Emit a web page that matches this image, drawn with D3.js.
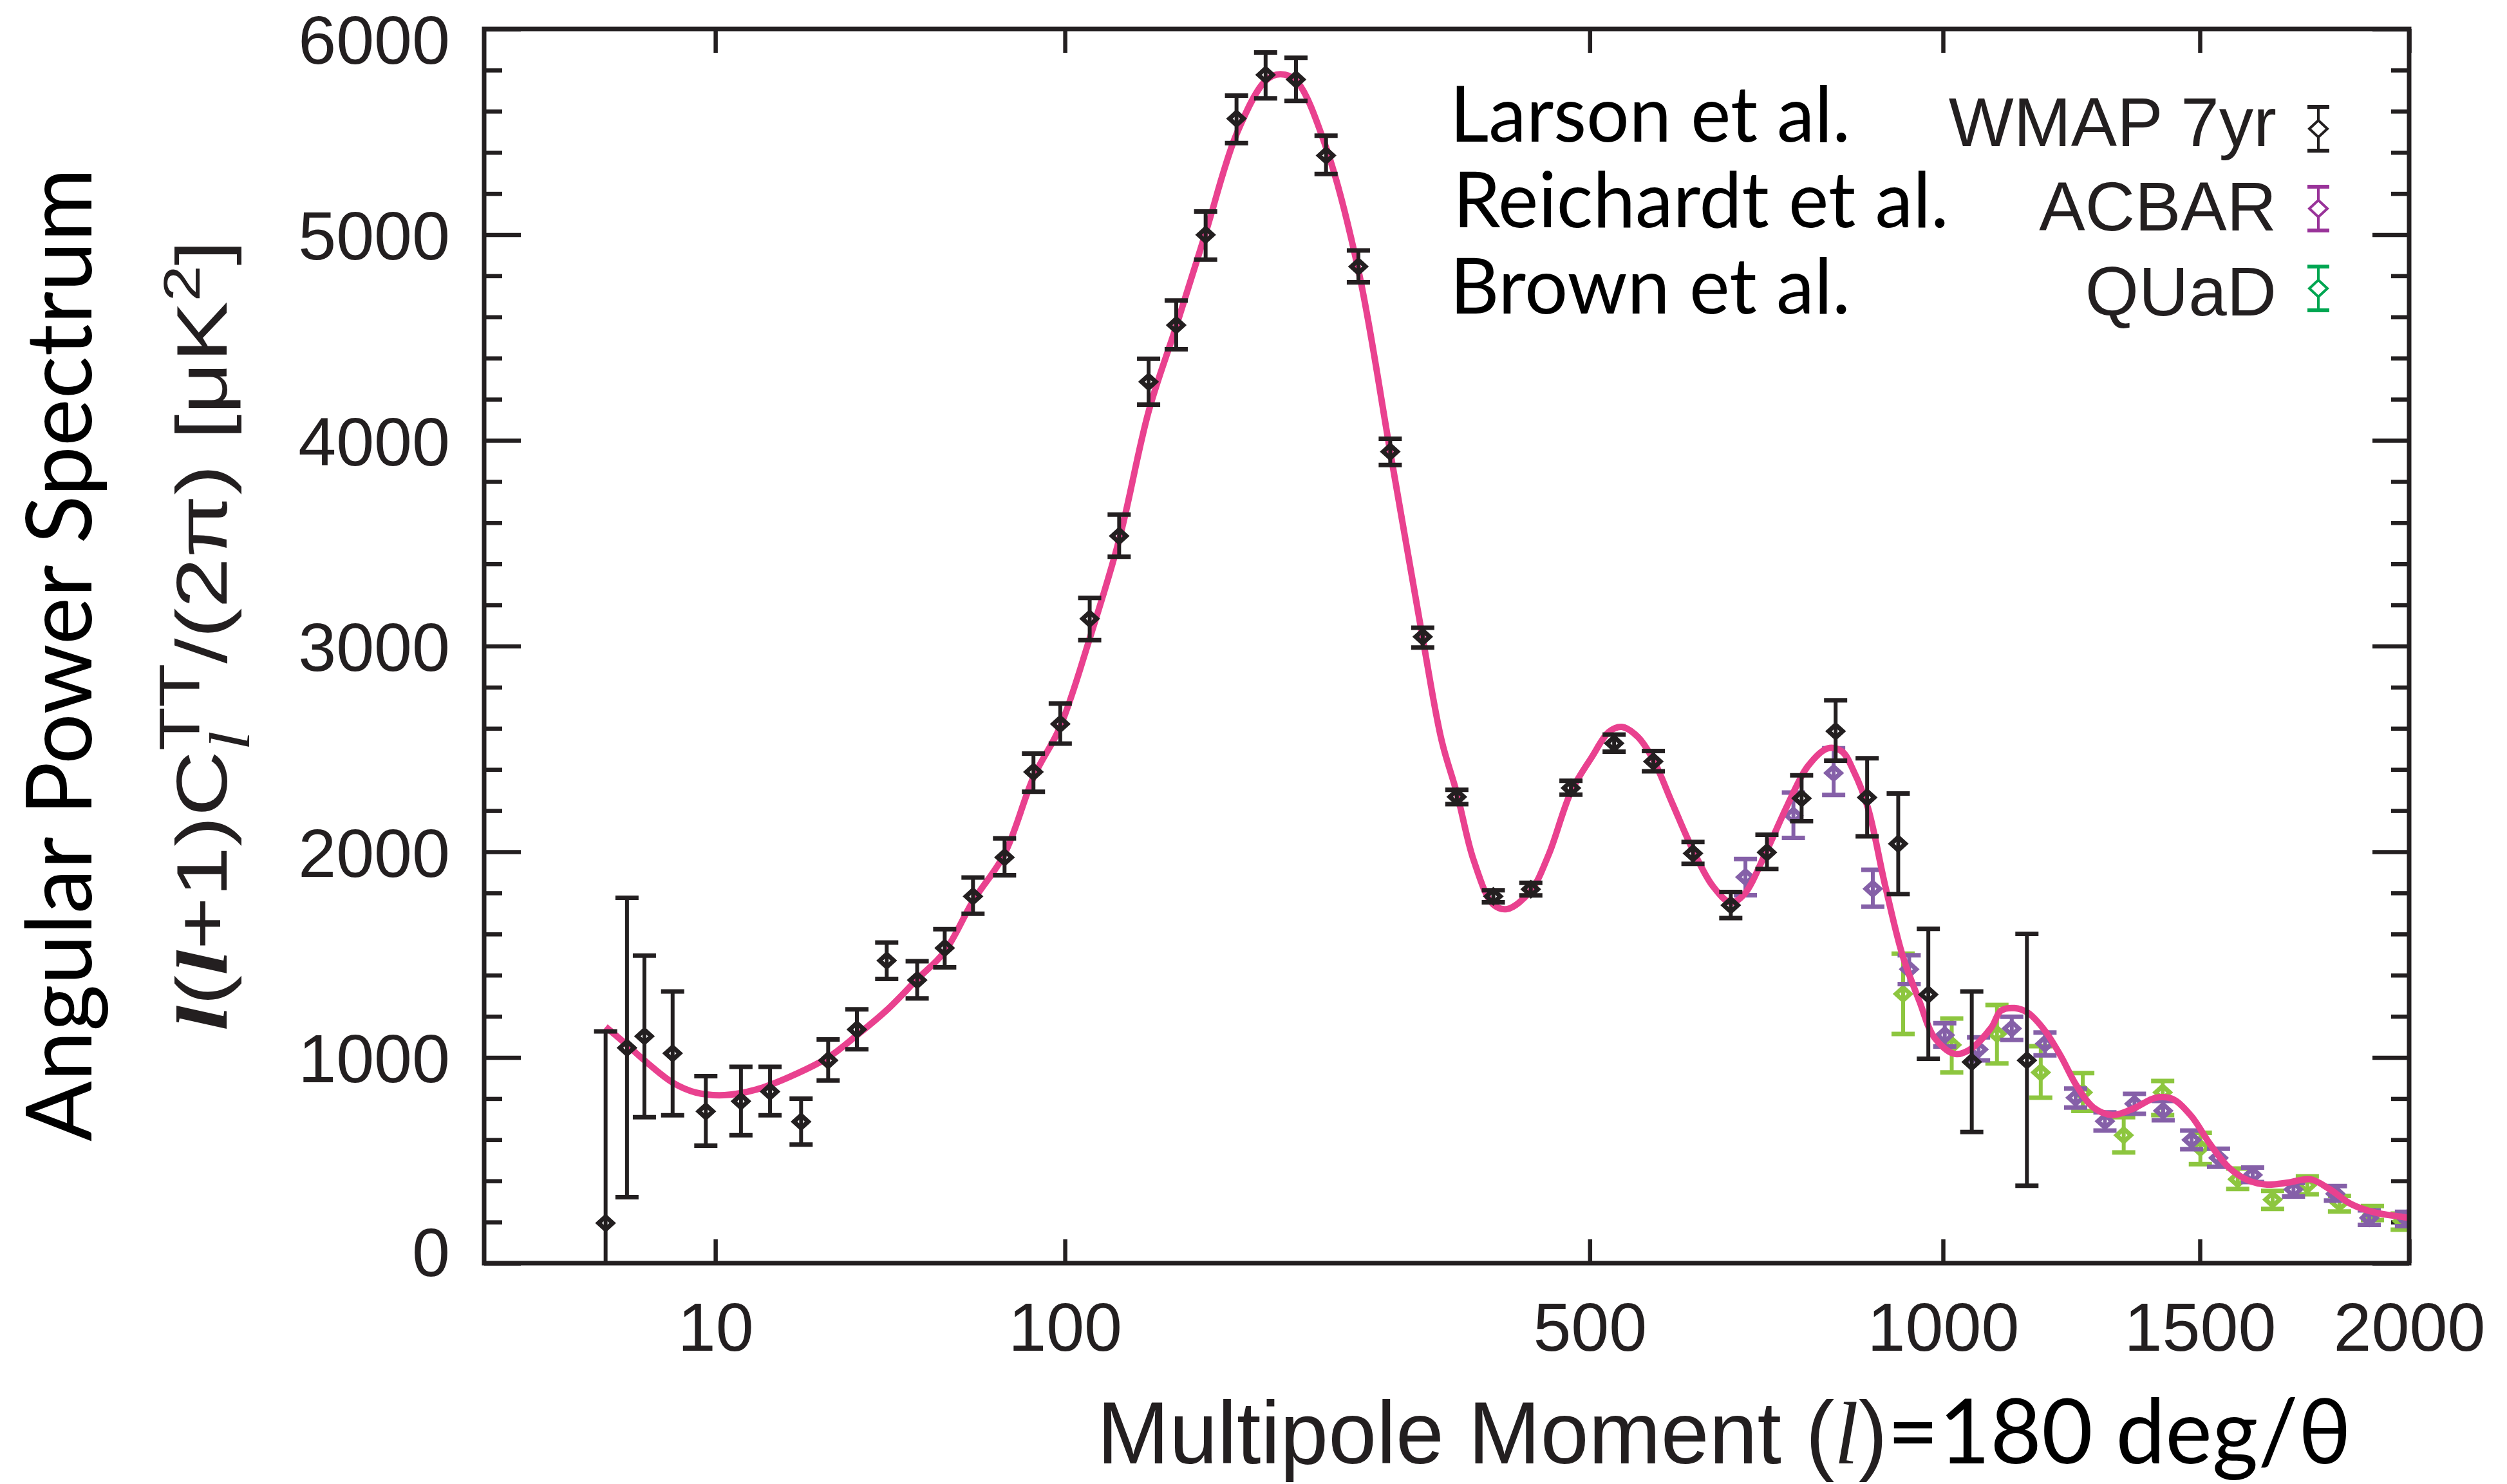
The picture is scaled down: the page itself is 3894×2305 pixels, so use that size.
<!DOCTYPE html>
<html><head><meta charset="utf-8">
<script src="https://cdn.jsdelivr.net/npm/d3@7"></script>
<style>
html,body{margin:0;padding:0;background:#fff;}
svg{display:block;}
</style></head>
<body>
<script>
// ---------- DATA ----------
const xTicks = [10, 100, 500, 1000, 1500, 2000];
const yMajor = [0, 1000, 2000, 3000, 4000, 5000, 6000];
const yMinor = d3.range(0, 6001, 200).filter(v => v % 1000 !== 0);

// WMAP 7yr (Larson et al.)  [l, value, low, high]
const wmap = [
  [2,195,-500,1127],[3,1047,321,1776],[4,1103,710,1495],[6,1020,719,1321],
  [9,738,571,909],[13,787,622,955],[17,834,719,955],[22,688,577,800],
  [27,986,888,1088],[33,1136,1040,1234],[40,1471,1382,1559],[48,1376,1287,1468],
  [56,1532,1438,1624],[65,1783,1699,1875],[76,1973,1886,2065],[87,2388,2292,2477],
  [98,2621,2526,2721],[111,3133,3029,3234],[125,3535,3434,3639],[140,4285,4174,4397],
  [155,4560,4443,4680],[172,4999,4879,5113],[191,5564,5445,5676],[210,5777,5663,5886],
  [231,5754,5650,5860],[253,5385,5295,5481],[278,4845,4768,4923],[304,3945,3880,4008],
  [332,3045,2993,3089],[363,2267,2232,2301],[398,1783,1754,1813],[436,1818,1788,1849],
  [479,2310,2278,2345],[528,2527,2487,2570],[575,2439,2391,2490],[625,1992,1941,2048],
  [675,1740,1678,1804],[725,1997,1916,2083],[775,2260,2149,2372],[826,2586,2443,2736],
  [875,2264,2075,2455],[925,2039,1794,2283],[975,1306,994,1625],[1050,978,638,1321],
  [1150,986,376,1601]
];
// ACBAR (Reichardt et al.)
const acbar = [
  [695,1877,1789,1965],[763,2176,2067,2288],[823,2383,2276,2503],[884,1820,1733,1912],
  [943,1429,1357,1497],[1003,1109,1053,1167],[1062,1039,986,1098],[1122,1141,1085,1198],
  [1184,1067,1010,1121],[1243,804,757,849],[1301,690,645,733],[1361,775,726,823],
  [1421,741,695,789],[1482,599,554,645],[1541,512,469,556],[1618,429,394,465],
  [1713,358,324,390],[1814,337,304,375],[1898,220,186,257],[1993,215,180,250]
];
// QUaD (Brown et al.)
const quad = [
  [933,1309,1114,1505],[1015,1061,927,1189],[1095,1114,971,1255],[1176,927,804,1055],
  [1257,830,740,924],[1339,622,538,710],[1420,830,720,886],[1501,561,481,634],
  [1584,408,361,460],[1664,309,264,351],[1746,380,335,422],[1824,293,251,327],
  [1906,238,210,278],[1982,205,163,241]
];
// best-fit model curve  [l, value]
const model = [
  [2,1149],[3,1061],[4,986],[6,878],[8,830],[11,817],[15,844],[20,905],[27,1000],
  [33,1108],[40,1230],[48,1380],[56,1515],[65,1760],[76,1990],[87,2362],[98,2609],
  [111,3037],[125,3517],[140,4140],[155,4555],[172,5009],[191,5489],[210,5749],
  [220,5780],[231,5749],[253,5424],[278,4827],[304,3945],[332,3037],[349,2540],
  [363,2285],[379,1957],[398,1743],[412,1722],[436,1811],[455,1988],[479,2291],
  [502,2458],[522,2583],[537,2607],[556,2559],[575,2447],[599,2232],[625,2008],
  [651,1833],[675,1753],[693,1792],[725,2008],[754,2224],[784,2415],[814,2503],
  [836,2487],[854,2391],[876,2216],[904,1833],[932,1497],[960,1274],[985,1098],
  [1019,1018],[1044,1034],[1085,1146],[1102,1227],[1127,1240],[1152,1217],
  [1183,1133],[1214,1008],[1245,862],[1278,757],[1316,721],[1359,752],[1405,804],
  [1440,799],[1481,716],[1522,580],[1564,465],[1607,403],[1651,382],[1701,392],
  [1753,408],[1799,361],[1852,288],[1913,246],[1982,225],[2000,220]
];
const legendRefs = ["Larson et al.", "Reichardt et al.", "Brown et al."];
const legendNames = ["WMAP 7yr", "ACBAR", "QUaD"];

// ---------- STYLE ----------
const W = 3894, H = 2305;
const L = 752, R = 3742, T = 45, B = 1962;
const ink = "#231f20";
const cWmap = "#231f20", cAcbar = "#8560a8", cQuad = "#8dc63f", cModel = "#e9418f";
const legendCols = ["#231f20", "#993399", "#00a651"];
const sans = "'Liberation Sans', Arial, Helvetica, sans-serif";
const gill = "Lato, 'Open Sans', sans-serif";
const serif = "'Liberation Serif', 'Times New Roman', serif";

const svg = d3.select("body").append("svg").attr("width", W).attr("height", H)
  .style("background", "#fff");

const x = d3.scalePow().exponent(0.4).domain([0, 2000]).range([L, R]);
const y = d3.scaleLinear().domain([0, 6000]).range([B, T]);

svg.append("defs").append("clipPath").attr("id", "plot")
  .append("rect").attr("x", L).attr("y", T).attr("width", R - L).attr("height", B - T);

// ---------- AXES ----------
function styleAxis(g) {
  g.select(".domain").remove();
  g.selectAll(".tick line").attr("stroke", ink).attr("stroke-width", 6.5);
  g.selectAll(".tick text").attr("fill", ink).style("font-family", sans).style("font-size", "106px");
}
svg.append("g").attr("transform", `translate(0,${B})`)
  .call(d3.axisBottom(x).tickValues(xTicks).tickSize(-37).tickPadding(61).tickFormat(d3.format("d")))
  .call(styleAxis);
svg.append("g").attr("transform", `translate(0,${T})`)
  .call(d3.axisTop(x).tickValues(xTicks).tickSize(-37).tickFormat(""))
  .call(styleAxis);
const yl = svg.append("g").attr("transform", `translate(${L},0)`)
  .call(d3.axisLeft(y).tickValues(yMajor).tickSize(-57).tickPadding(53).tickFormat(d3.format("d")))
  .call(styleAxis);
yl.selectAll(".tick text").attr("dy", d => d === 6000 ? "0.5em" : d === 0 ? "0.18em" : "0.36em");
svg.append("g").attr("transform", `translate(${L},0)`)
  .call(d3.axisLeft(y).tickValues(yMinor).tickSize(-28).tickFormat("")).call(styleAxis);
svg.append("g").attr("transform", `translate(${R},0)`)
  .call(d3.axisRight(y).tickValues(yMajor).tickSize(-57).tickFormat("")).call(styleAxis);
svg.append("g").attr("transform", `translate(${R},0)`)
  .call(d3.axisRight(y).tickValues(yMinor).tickSize(-28).tickFormat("")).call(styleAxis);

// ---------- MARKS ----------
const plot = svg.append("g").attr("clip-path", "url(#plot)");

function diamondPath(cx, cy, hw, hh) {
  return `M${cx - hw},${cy}L${cx},${cy - hh}L${cx + hw},${cy}L${cx},${cy + hh}Z`;
}
function drawSeries(data, color) {
  const g = plot.append("g");
  const pts = g.selectAll("g").data(data).join("g");
  pts.append("line")
    .attr("x1", d => x(d[0])).attr("x2", d => x(d[0]))
    .attr("y1", d => y(d[2])).attr("y2", d => y(d[3]))
    .attr("stroke", color).attr("stroke-width", 6);
  pts.append("line")
    .attr("x1", d => x(d[0]) - 18).attr("x2", d => x(d[0]) + 18)
    .attr("y1", d => y(d[2])).attr("y2", d => y(d[2]))
    .attr("stroke", color).attr("stroke-width", 7);
  pts.append("line")
    .attr("x1", d => x(d[0]) - 18).attr("x2", d => x(d[0]) + 18)
    .attr("y1", d => y(d[3])).attr("y2", d => y(d[3]))
    .attr("stroke", color).attr("stroke-width", 7);
  pts.append("path")
    .attr("d", d => diamondPath(x(d[0]), y(d[1]), 11, 10))
    .attr("fill", "none").attr("stroke", color).attr("stroke-width", 7);
}
drawSeries(quad, cQuad);
drawSeries(acbar, cAcbar);
plot.append("path").datum(model)
  .attr("d", d3.line().x(d => x(d[0])).y(d => y(d[1])).curve(d3.curveCatmullRom.alpha(0.5)))
  .attr("fill", "none").attr("stroke", cModel).attr("stroke-width", 10);
drawSeries(wmap, cWmap);

// frame
svg.append("rect").attr("x", L).attr("y", T).attr("width", R - L).attr("height", B - T)
  .attr("fill", "none").attr("stroke", ink).attr("stroke-width", 7);

// ---------- LEGEND ----------
function fitWidth(sel, target) {
  const w = sel.node().getBBox().width;
  const k = target / w;
  const ox = +sel.attr("x") || 0;
  sel.attr("transform", `translate(${ox * (1 - k)},0) scale(${k},1)`);
}
const refX = [2252, 2257, 2252], refW = [622, 770, 622], refBase = [220, 353, 487];
legendRefs.forEach((t, i) => {
  const tx = svg.append("text").attr("x", refX[i]).attr("y", refBase[i])
    .style("font-family", gill).style("font-size", "121px").attr("fill", "#000").text(t);
  fitWidth(tx, refW[i]);
});
const nameBase = [227, 358, 490], symY = [200, 324, 448];
legendNames.forEach((t, i) => {
  svg.append("text").attr("x", 3536).attr("y", nameBase[i]).attr("text-anchor", "end")
    .style("font-family", sans).style("font-size", "107px").attr("fill", ink).text(t);
  const g = svg.append("g");
  const sx = 3601, cy = symY[i], c = legendCols[i];
  g.append("line").attr("x1", sx).attr("x2", sx).attr("y1", cy - 34).attr("y2", cy + 34)
    .attr("stroke", c).attr("stroke-width", 4);
  [cy - 34, cy + 34].forEach(yy => g.append("line").attr("x1", sx - 17).attr("x2", sx + 17)
    .attr("y1", yy).attr("y2", yy).attr("stroke", c).attr("stroke-width", 6));
  g.append("path").attr("d", diamondPath(sx, cy, 14, 13))
    .attr("fill", "#fff").attr("stroke", c).attr("stroke-width", 4);
});

// ---------- AXIS TITLES ----------
// y title line 1
const yt1g = svg.append("g").attr("transform", "translate(142,1017) rotate(-90)");
const yt1 = yt1g.append("text").attr("x", 0).attr("y", 0).attr("text-anchor", "middle")
  .style("font-family", gill).style("font-size", "141px").attr("fill", "#000")
  .text("Angular Power Spectrum");
fitWidth(yt1, 1512);

// y title line 2
const yt2g = svg.append("g").attr("transform", "translate(352,987) rotate(-90)");
const yt2 = yt2g.append("text").attr("x", 0).attr("y", 0).attr("text-anchor", "middle")
  .style("font-family", sans).style("font-size", "112px").attr("fill", ink);
yt2.append("tspan").style("font-family", serif).style("font-style", "italic").style("font-weight", "bold").text("l");
yt2.append("tspan").text("(");
yt2.append("tspan").style("font-family", serif).style("font-style", "italic").style("font-weight", "bold").text("l");
yt2.append("tspan").text("+1)C");
const sub = yt2.append("tspan").attr("dy", 35).style("font-family", serif).style("font-style", "italic")
  .style("font-size", "88px").text("l");
const sup = yt2.append("tspan").attr("dy", -77).style("font-size", "88px").text("TT");
yt2.append("tspan").attr("dy", 42).text("/(2π) [μK");
yt2.append("tspan").attr("dy", -42).style("font-size", "80px").text("2");
yt2.append("tspan").attr("dy", 42).text("]");
sup.attr("dx", -sub.node().getComputedTextLength());
fitWidth(yt2, 1228);

// x title
const xt = svg.append("text").attr("x", 1704).attr("y", 2273)
  .style("font-family", sans).style("font-size", "137px").attr("fill", ink);
xt.append("tspan").text("Multipole Moment (");
xt.append("tspan").style("font-family", serif).style("font-style", "italic").text("l");
xt.append("tspan").text(")");
xt.append("tspan").style("font-family", gill).style("font-size", "140px").attr("fill", "#000").text("=180 deg/θ");
fitWidth(xt, 1948);
</script>
</body></html>
